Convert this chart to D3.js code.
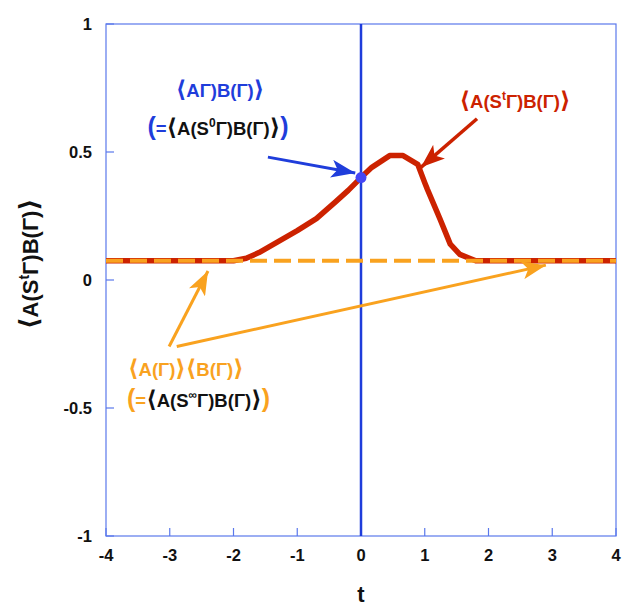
<!DOCTYPE html>
<html>
<head>
<meta charset="utf-8">
<script src="https://cdn.jsdelivr.net/npm/d3@7"></script>
<style>
body { margin: 0; background: #fff; }
text { font-family: "Liberation Sans", Arial, "DejaVu Sans", sans-serif; font-weight: bold; }
</style>
</head>
<body>
<svg id="chart" width="624" height="608"></svg>
<script>
// curve <A(S^t G)B(G)>
var tValues = [-4, -2.0, -1.8, -1.6, -1.3, -1.0, -0.7, -0.4, -0.2, 0, 0.17, 0.45, 0.66, 0.89, 1.0, 1.04, 1.24, 1.4, 1.55, 1.8, 4];
var corrValues = [0.075, 0.075, 0.085, 0.107, 0.15, 0.193, 0.24, 0.305, 0.35, 0.40, 0.44, 0.486, 0.486, 0.452, 0.38, 0.355, 0.238, 0.14, 0.10, 0.075, 0.075];
var baseline = 0.075;
var dotPoint = [0, 0.40];
var xTicks = [-4, -3, -2, -1, 0, 1, 2, 3, 4];
var yTicks = [-1, -0.5, 0, 0.5, 1];
var yTickLabels = ["-1", "-0.5", "0", "0.5", "1"];

// arrows: [x1, y1, x2, y2] in data units
var blueArrow = [-1.46, 0.48, -0.09, 0.418];
var redArrow = [1.82, 0.63, 0.94, 0.44];
var orangeArrows = [[-3.01, -0.26, -2.4, 0.035], [-2.89, -0.26, 2.9, 0.058]];

var BLUE = "#1f3ddb", RED = "#cc2200", ORANGE = "#f9a21f", FRAME = "#5a78ec";

var svg = d3.select("#chart");
var x = d3.scaleLinear().domain([-4, 4]).range([106, 616]);
var y = d3.scaleLinear().domain([-1, 1]).range([536, 24]);

// markers
var defs = svg.append("defs");
function marker(id, color, len, wid) {
	defs.append("marker")
		.attr("id", id)
		.attr("markerUnits", "userSpaceOnUse")
		.attr("viewBox", "0 0 " + len + " " + wid)
		.attr("refX", len).attr("refY", wid / 2)
		.attr("markerWidth", len).attr("markerHeight", wid)
		.attr("orient", "auto")
		.append("path")
		.attr("d", "M0,0L" + len + "," + (wid / 2) + "L0," + wid + "L6," + (wid / 2) + "Z")
		.attr("fill", color);
}
marker("mb", BLUE, 24, 18);
marker("mr", RED, 24, 18);
marker("mo", ORANGE, 24, 18);

// frame
svg.append("rect")
	.attr("x", x(-4)).attr("y", y(1))
	.attr("width", x(4) - x(-4)).attr("height", y(-1) - y(1))
	.attr("fill", "none").attr("stroke", FRAME).attr("stroke-width", 1.2);

// ticks (inward)
svg.append("g").selectAll("line").data(xTicks).enter().append("line")
	.attr("x1", function(d) { return x(d); }).attr("x2", function(d) { return x(d); })
	.attr("y1", y(-1)).attr("y2", y(-1) - 8)
	.attr("stroke", FRAME).attr("stroke-width", 1.2);
svg.append("g").selectAll("line").data(yTicks).enter().append("line")
	.attr("x1", x(-4)).attr("x2", x(-4) + 8)
	.attr("y1", function(d) { return y(d); }).attr("y2", function(d) { return y(d); })
	.attr("stroke", FRAME).attr("stroke-width", 1.2);

// tick labels
svg.append("g").selectAll("text").data(xTicks).enter().append("text")
	.attr("x", function(d) { return x(d); }).attr("y", y(-1) + 25)
	.attr("text-anchor", "middle").attr("font-size", 16.5).attr("fill", "#111")
	.text(function(d) { return d; });
svg.append("g").selectAll("text").data(yTicks).enter().append("text")
	.attr("x", x(-4) - 14).attr("y", function(d) { return y(d); })
	.attr("dy", "0.36em")
	.attr("text-anchor", "end").attr("font-size", 16.5).attr("fill", "#111")
	.text(function(d, i) { return yTickLabels[i]; });

// axis titles
svg.append("text").attr("x", x(0)).attr("y", 602)
	.attr("text-anchor", "middle").attr("font-size", 22).attr("fill", "#111").text("t");
var yl = svg.append("text")
	.attr("transform", "translate(38,264) rotate(-90)")
	.attr("text-anchor", "middle").attr("font-size", 22).attr("fill", "#111");
yl.append("tspan").attr("font-size", 26).text("⟨");
yl.append("tspan").text("A(S");
yl.append("tspan").attr("dy", -9).attr("font-size", 14).text("t");
yl.append("tspan").attr("dy", 9).text("Γ)B(Γ)");
yl.append("tspan").attr("font-size", 26).text("⟩");

// blue vertical line at t = 0
svg.append("line")
	.attr("x1", x(0)).attr("x2", x(0)).attr("y1", y(1)).attr("y2", y(-1))
	.attr("stroke", BLUE).attr("stroke-width", 2.5);

// red curve
var line = d3.line()
	.x(function(d) { return x(d[0]); })
	.y(function(d) { return y(d[1]); });
svg.append("path")
	.datum(d3.zip(tValues, corrValues))
	.attr("d", line)
	.attr("fill", "none").attr("stroke", RED).attr("stroke-width", 5.5)
	.attr("stroke-linejoin", "round");

// orange dashed baseline
svg.append("line")
	.attr("x1", x(-4)).attr("x2", x(4)).attr("y1", y(baseline)).attr("y2", y(baseline))
	.attr("stroke", ORANGE).attr("stroke-width", 4).attr("stroke-dasharray", "17,7");

// dot at t = 0
svg.append("circle")
	.attr("cx", x(dotPoint[0])).attr("cy", y(dotPoint[1])).attr("r", 5.5)
	.attr("fill", "#4646f5");

// arrows
function arrow(a, color, id, w) {
	svg.append("line")
		.attr("x1", x(a[0])).attr("y1", y(a[1])).attr("x2", x(a[2])).attr("y2", y(a[3]))
		.attr("stroke", color).attr("stroke-width", w)
		.attr("marker-end", "url(#" + id + ")");
}
arrow(blueArrow, BLUE, "mb", 3);
arrow(redArrow, RED, "mr", 3.5);
orangeArrows.forEach(function(a) { arrow(a, ORANGE, "mo", 3); });

// annotations (angle brackets a bit taller, as in the original)
function bracketed(sel, parts) {
	parts.forEach(function(p) {
		var t = sel.append("tspan").text(p[0]);
		if (p[1]) t.attr("fill", p[1]);
		if (p[2]) t.attr("font-size", p[2]);
		if (p[3]) t.attr("dy", p[3]);
	});
}
var b1 = svg.append("text").attr("x", 220).attr("y", 97)
	.attr("text-anchor", "middle").attr("font-size", 18.5).attr("fill", BLUE);
bracketed(b1, [["⟨", null, 23], ["AΓ)B(Γ)"], ["⟩", null, 23]]);

var b2 = svg.append("text").attr("x", 218).attr("y", 135)
	.attr("text-anchor", "middle").attr("font-size", 18.5).attr("fill", "#111");
bracketed(b2, [["(", BLUE, 25], ["=", BLUE], ["⟨", null, 23], ["A(S"], ["0", null, 12, -8],
	["Γ)B(Γ)", null, null, 8], ["⟩", null, 23], [")", BLUE, 25]]);

var r1 = svg.append("text").attr("x", 515).attr("y", 108)
	.attr("text-anchor", "middle").attr("font-size", 18.5).attr("fill", RED);
bracketed(r1, [["⟨", null, 23], ["A(S"], ["t", null, 12, -8], ["Γ)B(Γ)", null, null, 8], ["⟩", null, 23]]);

var o1 = svg.append("text").attr("x", 128).attr("y", 376)
	.attr("font-size", 18.5).attr("fill", ORANGE);
bracketed(o1, [["⟨", null, 23], ["A(Γ)"], ["⟩⟨", null, 23], ["B(Γ)"], ["⟩", null, 23]]);

var o2 = svg.append("text").attr("x", 127).attr("y", 407)
	.attr("font-size", 18.5).attr("fill", "#111");
bracketed(o2, [["(", ORANGE, 25], ["=", ORANGE], ["⟨", null, 23], ["A(S"], ["∞", null, 12, -8],
	["Γ)B(Γ)", null, null, 8], ["⟩", null, 23], [")", ORANGE, 25]]);
</script>
</body>
</html>
